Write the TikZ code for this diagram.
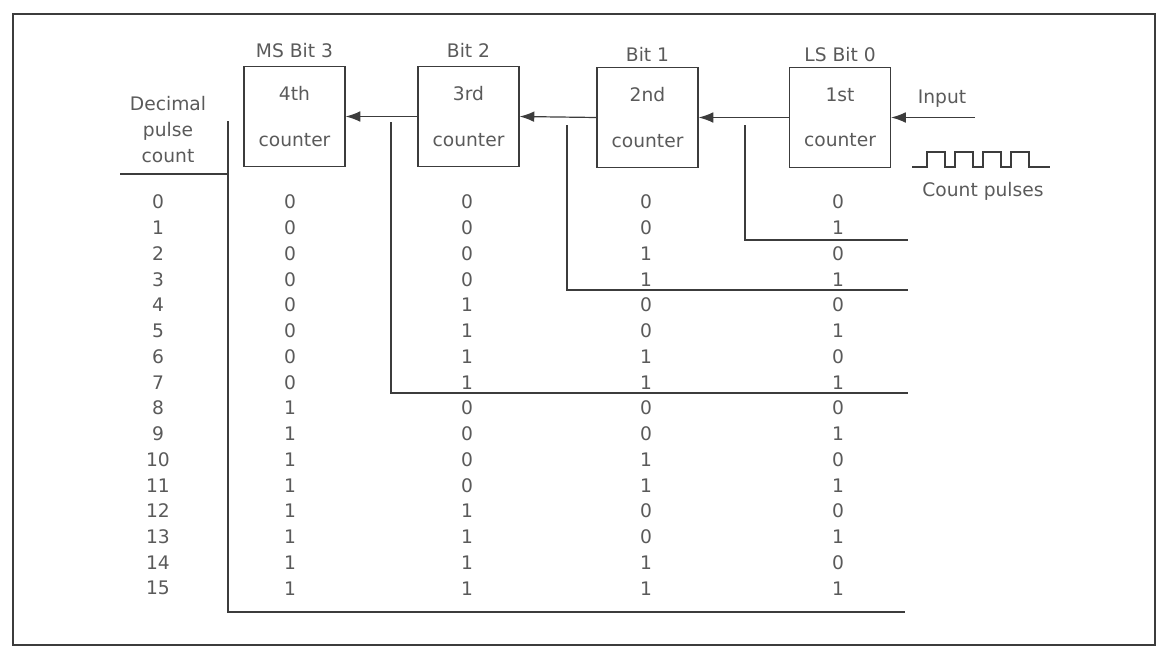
\documentclass[tikz,border=0pt]{standalone}
\usepackage{fontspec}
\setmainfont{DejaVu Sans}
\usetikzlibrary{arrows.meta,positioning}
\definecolor{ScanInk}  {HTML}{5A5A5A}
\definecolor{ScanLine} {HTML}{3C3C3C}

\tikzset{
  counterbox/.style={draw=ScanLine,line width=0.9pt,minimum width=75.75pt,
                     minimum height=74.5pt,align=center,text=ScanInk,
                     font=\fontsize{14}{17}\selectfont},
  bitlabel/.style={text=ScanInk,inner sep=0pt,font=\fontsize{14}{17}\selectfont},
  digit/.style={text=ScanInk,inner sep=0pt,font=\fontsize{14}{17}\selectfont},
  wire/.style={draw=ScanLine,line width=0.9pt},
  flow/.style={wire,-{Latex[length=11pt,width=8pt]}}
}

\begin{document}
\begin{tikzpicture}[x=0.75pt,y=-0.75pt]
  \useasboundingbox (0,0) rectangle (1160,653);
  \draw[ScanLine,line width=1.5pt] (13,14) rectangle (1155,645);

  % counter chain
  \node[counterbox] (c4) at (294.5,116.5) {4th\\[17pt]counter};
  \node[counterbox] (c3) at (468.5,116.5) {3rd\\[17pt]counter};
  \node[counterbox] (c2) at (647.5,117.5) {2nd\\[17pt]counter};
  \node[counterbox] (c1) at (840,117.5)   {1st\\[17pt]counter};

  \node[bitlabel,above=6pt of c4] {MS Bit 3};
  \node[bitlabel,above=6pt of c3] {Bit 2};
  \node[bitlabel,above=4pt of c2] {Bit 1};
  \node[bitlabel,above=4pt of c1] {LS Bit 0};

  \coordinate (in) at (975,117.5);
  \draw[flow] (in) -- (c1.east);
  \draw[flow] (c1.west) -- (c2.east);
  \draw[flow] (c2.west) -- (c3.east);
  \draw[flow] (c3.west) -- (c4.east);

  \node[bitlabel] (input) at (942,99) {Input};

  % pulse train
  \draw[wire] (912,167) -- (927,167)
    \foreach \p in {0,...,3} { -- ++(0,-15) -- ++(18,0) -- ++(0,15) -- ++(10,0) }
    -- (1050,167);
  \node[bitlabel] (pulses) at (983,191) {Count pulses};

  % table heading
  \node[bitlabel,align=center,font=\fontsize{14}{19.5}\selectfont] (dec) at (168,130)
    {Decimal\\pulse\\count};
  \coordinate (hl) at (120,174);
  \coordinate (hr) at (227,174);
  \draw[wire] (hl) -- (hr);

  % count table
  \foreach \n in {0,...,15}{
    \pgfmathsetmacro\yy{202+25.75*\n}
    \node[digit] (d\n) at (158,\yy) {\n};
    \foreach \b/\xx in {0/838,1/646,2/467,3/290}{
      \pgfmathtruncatemacro\v{mod(floor(\n/2^\b),2)}
      \node[digit] (b\b r\n) at (\xx,\yy) {\v};
    }
  }

  % bit change steps
  \coordinate (tap0) at (745,125);
  \coordinate (end0) at (908,240);
  \coordinate (tap1) at (567,125);
  \coordinate (end1) at (908,290);
  \coordinate (tap2) at (391,122);
  \coordinate (end2) at (908,393);
  \coordinate (tap3) at (228,121);
  \coordinate (end3) at (905,612);
  \foreach \k in {0,...,3}
    \draw[wire] (tap\k) |- (end\k);
\end{tikzpicture}
\end{document}
